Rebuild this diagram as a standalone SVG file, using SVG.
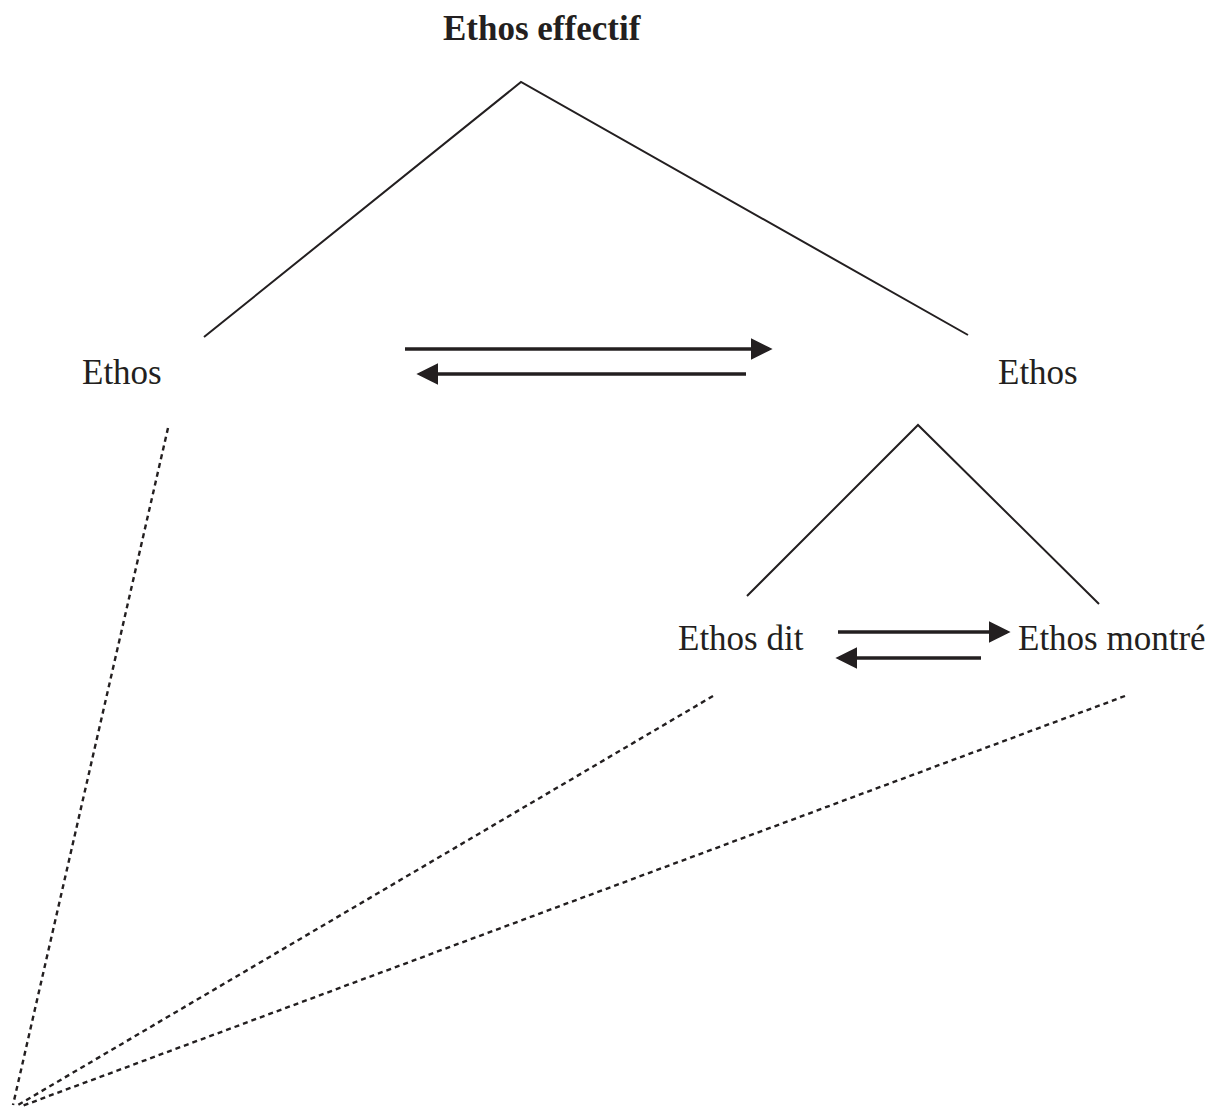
<svg xmlns="http://www.w3.org/2000/svg" width="1208" height="1110" viewBox="0 0 1208 1110">
<style>
text{font-family:"Liberation Serif","Times New Roman",serif;fill:#231f20;font-size:35px}
.b{font-weight:bold}
.l{stroke:#231f20;stroke-width:2;fill:none}
.a{stroke:#231f20;stroke-width:3.6;fill:none}
.d{stroke:#231f20;stroke-width:2.4;fill:none;stroke-dasharray:5 4}
</style>
<defs>
<marker id="ah" markerWidth="6" markerHeight="6" refX="5" refY="3" orient="auto" markerUnits="strokeWidth" viewBox="0 0 6 6">
<path d="M0,0 L6,3 L0,6 z" fill="#231f20"/>
</marker>
</defs>
<rect width="1208" height="1110" fill="#fff"/>
<g id="n-effectif"><text class="b" x="443" y="40">Ethos effectif</text></g>
<g id="n-ethos-left"><text x="82" y="384">Ethos</text></g>
<g id="n-ethos-right"><text x="998" y="384">Ethos</text></g>
<g id="n-dit"><text x="678" y="650">Ethos dit</text></g>
<g id="n-montre"><text x="1018" y="650">Ethos montré</text></g>
<g id="connectors">
<polyline class="l" points="204,337 521,82 968,335"/>
<polyline class="l" points="747,596 918,425 1099,604"/>
<line class="a" x1="405" y1="349" x2="769" y2="349" marker-end="url(#ah)"/>
<line class="a" x1="746" y1="374" x2="420" y2="374" marker-end="url(#ah)"/>
<line class="a" x1="838" y1="632" x2="1007" y2="632" marker-end="url(#ah)"/>
<line class="a" x1="981" y1="658" x2="839" y2="658" marker-end="url(#ah)"/>
<line class="d" x1="168" y1="428" x2="13" y2="1105"/>
<line class="d" x1="713" y1="696" x2="18" y2="1105"/>
<line class="d" x1="1125" y1="696" x2="22" y2="1106"/>
</g>
</svg>
